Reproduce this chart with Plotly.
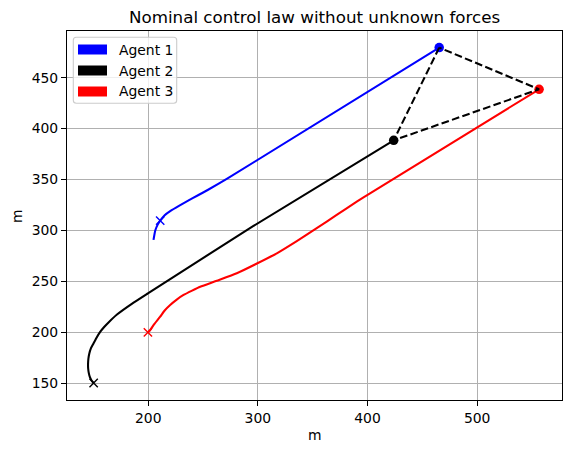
import plotly.graph_objects as go

# ---------------- data ----------------
agent1_x = [204.8, 206.4, 208.5, 210.9, 215.0, 220.0, 228.0, 236.0, 245.0, 255.0, 272.0, 465.4]
agent1_y = [290.7, 300.0, 305.5, 309.6, 315.0, 319.0, 324.2, 329.0, 334.3, 340.2, 350.8, 479.5]

agent2_x = [150.2, 148.3, 146.8, 145.8, 145.2, 145.1, 145.4, 146.2, 147.6, 150.2, 153.0,
            156.3, 160.0, 164.0, 171.5, 185.0, 199.7, 296.0, 423.9]
agent2_y = [150.3, 152.8, 156.0, 160.0, 164.5, 169.0, 174.0, 179.0, 184.0, 189.3, 195.0,
            200.7, 205.5, 210.0, 217.5, 228.0, 238.3, 304.4, 388.5]

agent3_x = [199.7, 201.8, 205.5, 210.9, 215.0, 220.0, 226.0, 232.2, 240.0, 247.4, 262.6,
            280.8, 299.6, 317.3, 335.5, 353.7, 371.9, 390.2, 402.3, 556.5]
agent3_y = [200.0, 202.3, 208.0, 215.4, 221.5, 226.9, 232.2, 236.7, 241.0, 244.8, 250.7,
            258.0, 267.8, 277.6, 289.6, 302.2, 315.2, 328.3, 336.5, 438.6]

start_index = [3, 0, 0]   # index of the 'x' start marker in each trajectory

agent_names = ["Agent 1", "Agent 2", "Agent 3"]
agent_colors = ["#0000ff", "#000000", "#ff0000"]

x_ticks = [200, 300, 400, 500]
y_ticks = [150, 200, 250, 300, 350, 400, 450]
x_range = [125.9, 577.4]
y_range = [133.6, 495.8]

title_text = "Nominal control law without unknown forces"
x_label = "m"
y_label = "m"

# ---------------- layout constants (pixels) ----------------
W, H = 571, 453
ML, MR, MT, MB = 67, 9, 31, 53
PW, PH = W - ML - MR, H - MT - MB
FONT = "DejaVu Sans"
LW = 2.08


def px_x(px):
    return (px - ML) / PW


def px_y(py):
    return (H - MB - py) / PH


trajs = [(agent1_x, agent1_y), (agent2_x, agent2_y), (agent3_x, agent3_y)]

fig = go.Figure()

for (xs, ys), col in zip(trajs, agent_colors):
    fig.add_trace(go.Scatter(x=xs, y=ys, mode="lines",
                             line=dict(color=col, width=LW, shape="spline", smoothing=0.5),
                             showlegend=False, hoverinfo="skip"))

# start markers
for (xs, ys), col, si in zip(trajs, agent_colors, start_index):
    fig.add_trace(go.Scatter(x=[xs[si]], y=[ys[si]], mode="markers",
                             marker=dict(symbol="x-thin", size=8.3,
                                         line=dict(color=col, width=1.4)),
                             showlegend=False, hoverinfo="skip"))

# end markers
for (xs, ys), col in zip(trajs, agent_colors):
    fig.add_trace(go.Scatter(x=[xs[-1]], y=[ys[-1]], mode="markers",
                             marker=dict(symbol="circle", size=9.5, color=col,
                                         line=dict(width=0)),
                             showlegend=False, hoverinfo="skip"))

# dashed formation triangle
ends_x = [agent1_x[-1], agent2_x[-1], agent3_x[-1], agent1_x[-1]]
ends_y = [agent1_y[-1], agent2_y[-1], agent3_y[-1], agent1_y[-1]]
fig.add_trace(go.Scatter(x=ends_x, y=ends_y, mode="lines",
                         line=dict(color="black", width=LW, dash="7.7px,3.3px"),
                         showlegend=False, hoverinfo="skip"))

axis_common = dict(showgrid=True, gridcolor="#b0b0b0", gridwidth=1.1,
                   showline=True, linecolor="black", linewidth=1.1, mirror=True,
                   ticks="outside", ticklen=5, tickwidth=1.1, tickcolor="black",
                   zeroline=False, automargin=False,
                   tickfont=dict(family=FONT, size=13.9, color="black"))

fig.update_layout(
    width=W, height=H,
    margin=dict(l=ML, r=MR, t=MT, b=MB, pad=0, autoexpand=False),
    paper_bgcolor="white", plot_bgcolor="white",
    font=dict(family=FONT, color="black"),
    xaxis=dict(range=x_range, tickvals=x_ticks, ticktext=[str(v) for v in x_ticks], **axis_common),
    yaxis=dict(range=y_range, tickvals=y_ticks, ticktext=[str(v) for v in y_ticks], **axis_common),
    showlegend=False,
)

annotations = [
    dict(text=title_text, x=0.5, y=px_y(17), xref="paper", yref="paper",
         xanchor="center", yanchor="middle", showarrow=False,
         font=dict(family=FONT, size=16.7, color="black")),
    dict(text=x_label, x=0.5, y=px_y(435.5), xref="paper", yref="paper",
         xanchor="center", yanchor="middle", showarrow=False,
         font=dict(family=FONT, size=13.9, color="black")),
    dict(text=y_label, x=px_x(17), y=px_y(216), xref="paper", yref="paper",
         xanchor="center", yanchor="middle", showarrow=False, textangle=-90,
         font=dict(family=FONT, size=13.9, color="black")),
]

# legend box (rounded)
bx0, bx1, by0, by1, r = 73.3, 176.7, 37.3, 103.3, 3.0
path = (f"M {px_x(bx0 + r)} {px_y(by0)} L {px_x(bx1 - r)} {px_y(by0)} "
        f"Q {px_x(bx1)} {px_y(by0)} {px_x(bx1)} {px_y(by0 + r)} "
        f"L {px_x(bx1)} {px_y(by1 - r)} Q {px_x(bx1)} {px_y(by1)} {px_x(bx1 - r)} {px_y(by1)} "
        f"L {px_x(bx0 + r)} {px_y(by1)} Q {px_x(bx0)} {px_y(by1)} {px_x(bx0)} {px_y(by1 - r)} "
        f"L {px_x(bx0)} {px_y(by0 + r)} Q {px_x(bx0)} {px_y(by0)} {px_x(bx0 + r)} {px_y(by0)} Z")
shapes = [dict(type="path", path=path, xref="paper", yref="paper",
               fillcolor="rgba(255,255,255,0.8)", line=dict(color="#cccccc", width=1.1),
               layer="above")]

centers = [49.5, 70.5, 91.5]
for name, col, cy in zip(agent_names, agent_colors, centers):
    shapes.append(dict(type="rect", xref="paper", yref="paper",
                       x0=px_x(78), x1=px_x(107), y0=px_y(cy - 5), y1=px_y(cy + 5),
                       fillcolor=col, line=dict(width=0), layer="above"))
    annotations.append(dict(text=name, x=px_x(116.5), y=px_y(cy), xref="paper", yref="paper",
                            xanchor="left", yanchor="middle", showarrow=False,
                            font=dict(family=FONT, size=13.9, color="black")))

fig.update_layout(shapes=shapes, annotations=annotations)

fig.write_html("out.html", config={"displayModeBar": False},
               post_script="document.body.style.margin='0';document.body.style.padding='0';")
